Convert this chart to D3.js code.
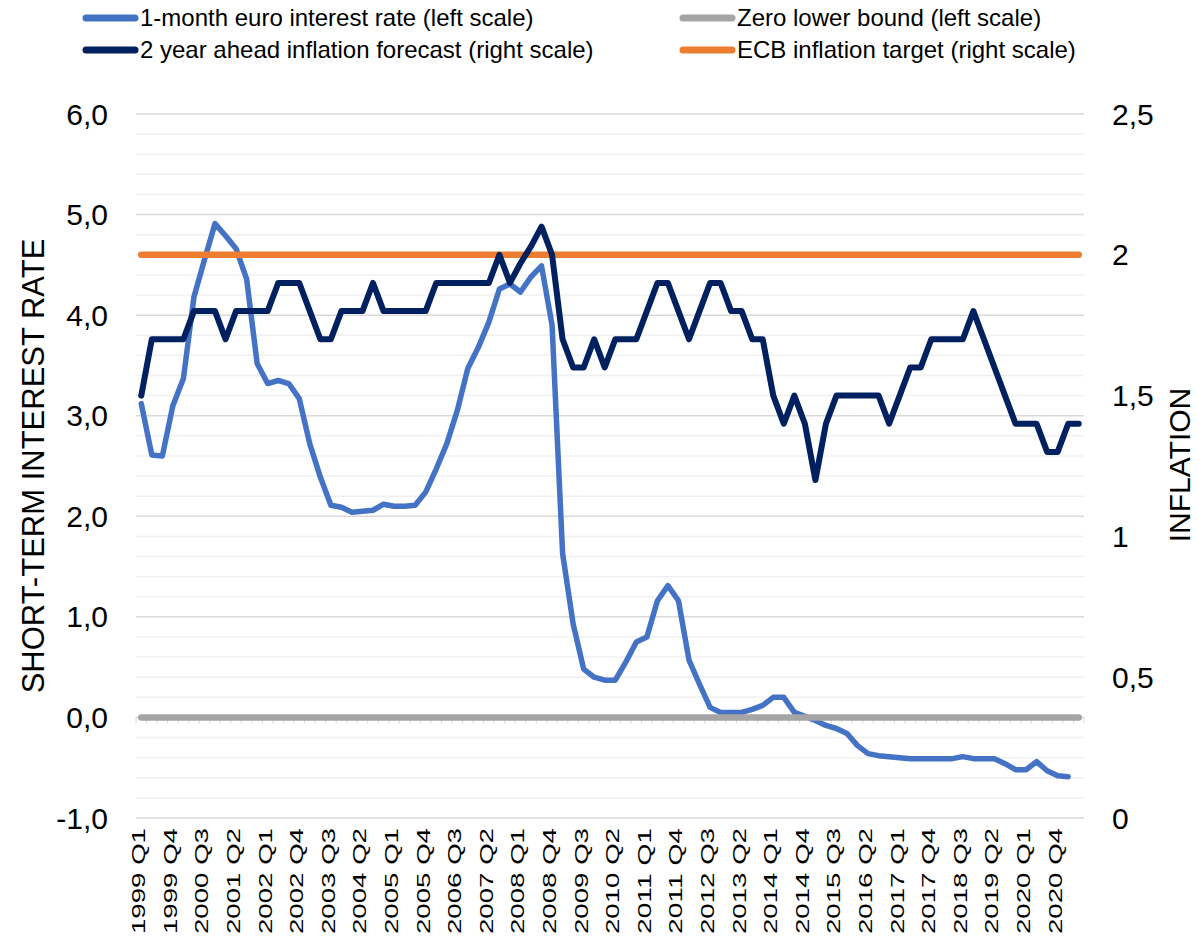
<!DOCTYPE html>
<html><head><meta charset="utf-8">
<script src="https://cdn.jsdelivr.net/npm/d3@7"></script>
<style>
body{margin:0;background:#fff}
text{font-family:Arial,"Liberation Sans",sans-serif;fill:#000}
</style>
</head><body>
<svg id="c" width="1199" height="939"></svg>
<script>
const quarters = [
"1999 Q1","1999 Q2","1999 Q3","1999 Q4","2000 Q1","2000 Q2","2000 Q3","2000 Q4",
"2001 Q1","2001 Q2","2001 Q3","2001 Q4","2002 Q1","2002 Q2","2002 Q3","2002 Q4",
"2003 Q1","2003 Q2","2003 Q3","2003 Q4","2004 Q1","2004 Q2","2004 Q3","2004 Q4",
"2005 Q1","2005 Q2","2005 Q3","2005 Q4","2006 Q1","2006 Q2","2006 Q3","2006 Q4",
"2007 Q1","2007 Q2","2007 Q3","2007 Q4","2008 Q1","2008 Q2","2008 Q3","2008 Q4",
"2009 Q1","2009 Q2","2009 Q3","2009 Q4","2010 Q1","2010 Q2","2010 Q3","2010 Q4",
"2011 Q1","2011 Q2","2011 Q3","2011 Q4","2012 Q1","2012 Q2","2012 Q3","2012 Q4",
"2013 Q1","2013 Q2","2013 Q3","2013 Q4","2014 Q1","2014 Q2","2014 Q3","2014 Q4",
"2015 Q1","2015 Q2","2015 Q3","2015 Q4","2016 Q1","2016 Q2","2016 Q3","2016 Q4",
"2017 Q1","2017 Q2","2017 Q3","2017 Q4","2018 Q1","2018 Q2","2018 Q3","2018 Q4",
"2019 Q1","2019 Q2","2019 Q3","2019 Q4","2020 Q1","2020 Q2","2020 Q3","2020 Q4",
"2021 Q1","2021 Q2"];

// 1-month euro interest rate (left scale)
const euribor1m = [
3.12,2.61,2.60,3.10,3.37,4.18,4.55,4.91,4.79,4.66,
4.36,3.52,3.32,3.35,3.32,3.17,2.72,2.39,2.11,2.09,
2.04,2.05,2.06,2.12,2.10,2.10,2.11,2.24,2.47,2.72,
3.05,3.47,3.68,3.93,4.26,4.31,4.23,4.38,4.49,3.90,
1.63,0.93,0.48,0.40,0.37,0.37,0.55,0.75,0.80,1.16,
1.31,1.16,0.57,0.33,0.10,0.05,0.05,0.05,0.08,0.12,
0.20,0.20,0.05,0.01,-0.03,-0.08,-0.11,-0.16,-0.28,-0.36,
-0.38,-0.39,-0.40,-0.41,-0.41,-0.41,-0.41,-0.41,-0.39,-0.41,
-0.41,-0.41,-0.46,-0.52,-0.52,-0.44,-0.53,-0.58,-0.59,null];

// 2 year ahead inflation forecast (right scale)
const inflationForecast = [
1.5,1.7,1.7,1.7,1.7,1.8,1.8,1.8,1.7,1.8,
1.8,1.8,1.8,1.9,1.9,1.9,1.8,1.7,1.7,1.8,
1.8,1.8,1.9,1.8,1.8,1.8,1.8,1.8,1.9,1.9,
1.9,1.9,1.9,1.9,2.0,1.9,1.97,2.03,2.1,2.0,
1.7,1.6,1.6,1.7,1.6,1.7,1.7,1.7,1.8,1.9,
1.9,1.8,1.7,1.8,1.9,1.9,1.8,1.8,1.7,1.7,
1.5,1.4,1.5,1.4,1.2,1.4,1.5,1.5,1.5,1.5,
1.5,1.4,1.5,1.6,1.6,1.7,1.7,1.7,1.7,1.8,
1.7,1.6,1.5,1.4,1.4,1.4,1.3,1.3,1.4,1.4];

const zeroLowerBound = 0;   // left scale
const ecbTarget = 2;        // right scale

const leftTicks = [-1,0,1,2,3,4,5,6];
const leftTickLabels = ["-1,0","0,0","1,0","2,0","3,0","4,0","5,0","6,0"];
const rightTicks = [0,0.5,1,1.5,2,2.5];
const rightTickLabels = ["0","0,5","1","1,5","2","2,5"];

const seriesNames = ["1-month euro interest rate (left scale)","Zero lower bound (left scale)",
  "2 year ahead inflation forecast (right scale)","ECB inflation target (right scale)"];
const seriesColors = ["#4472C4","#A5A5A5","#002060","#ED7D31"];

const svg = d3.select("#c");
const L = 136, R = 1084, T = 114, B = 818;

const x = d3.scaleBand().domain(quarters).range([L, R]);
const cx = q => x(q) + x.bandwidth()/2;
const yL = d3.scaleLinear().domain([-1,6]).range([B,T]);
const yR = d3.scaleLinear().domain([0,2.5]).range([B,T]);

// minor gridlines
const minor = d3.range(-10, 61, 2).map(v => v/10).filter(v => Math.abs(v - Math.round(v)) > 1e-9);
svg.append("g").selectAll("line").data(minor).join("line")
  .attr("x1", L).attr("x2", R).attr("y1", d=>yL(d)).attr("y2", d=>yL(d))
  .attr("stroke", "#F0F0F0").attr("stroke-width", 1.5);
svg.append("g").selectAll("line").data(leftTicks).join("line")
  .attr("x1", L).attr("x2", R).attr("y1", d=>yL(d)).attr("y2", d=>yL(d))
  .attr("stroke", "#D9D9D9").attr("stroke-width", 1.5);

// category ticks at zero line
const bounds = quarters.map(q => x(q)).concat([R]);
svg.append("g").selectAll("line").data(bounds).join("line")
  .attr("x1", d=>d).attr("x2", d=>d).attr("y1", yL(0)).attr("y2", yL(0)+6)
  .attr("stroke", "#D9D9D9").attr("stroke-width", 1);

// left axis labels
svg.append("g").selectAll("text").data(leftTicks).join("text")
  .attr("x", 108).attr("y", d=>yL(d)).attr("dy","0.35em").attr("text-anchor","end")
  .style("font-size","30px").text((d,i)=>leftTickLabels[i]);
svg.append("g").selectAll("text").data(rightTicks).join("text")
  .attr("x", 1112).attr("y", d=>yR(d)).attr("dy","0.35em").attr("text-anchor","start")
  .style("font-size","30px").text((d,i)=>rightTickLabels[i]);

// axis titles
svg.append("text").attr("transform","translate(44,466) rotate(-90)").attr("text-anchor","middle")
  .style("font-size","31px").text("SHORT-TERM INTEREST RATE");
svg.append("text").attr("transform","translate(1190,465) rotate(-90)").attr("text-anchor","middle")
  .style("font-size","30px").text("INFLATION");

// x labels
const xLabelIdx = d3.range(0, quarters.length, 3);
svg.append("g").selectAll("text").data(xLabelIdx.map(i=>quarters[i])).join("text")
  .attr("transform", d=>`translate(${cx(d)+4},828) rotate(-90)`)
  .attr("text-anchor","end")
  .attr("textLength", 106).attr("lengthAdjust","spacingAndGlyphs")
  .style("font-size","19px").text(d=>d);

// lines
const lineL = d3.line().defined(d=>d.v!=null).x(d=>cx(d.q)).y(d=>yL(d.v));
const lineR = d3.line().defined(d=>d.v!=null).x(d=>cx(d.q)).y(d=>yR(d.v));
const first = quarters[0], last = quarters[quarters.length-1];

svg.append("path").datum(quarters.map((q,i)=>({q, v:euribor1m[i]})))
  .attr("d", lineL).attr("fill","none").attr("stroke",seriesColors[0])
  .attr("stroke-width",5.5).attr("stroke-linejoin","round").attr("stroke-linecap","round");
svg.append("path").datum([{q:first,v:zeroLowerBound},{q:last,v:zeroLowerBound}])
  .attr("d", lineL).attr("fill","none").attr("stroke",seriesColors[1])
  .attr("stroke-width",6.5).attr("stroke-linecap","round");
svg.append("path").datum([{q:first,v:ecbTarget},{q:last,v:ecbTarget}])
  .attr("d", lineR).attr("fill","none").attr("stroke",seriesColors[3])
  .attr("stroke-width",6.5).attr("stroke-linecap","round");
svg.append("path").datum(quarters.map((q,i)=>({q, v:inflationForecast[i]})))
  .attr("d", lineR).attr("fill","none").attr("stroke",seriesColors[2])
  .attr("stroke-width",6).attr("stroke-linejoin","round").attr("stroke-linecap","round");

// legend
const legPos = [[86,18],[683,18],[86,50],[683,50]];
const leg = svg.append("g").selectAll("g").data(seriesNames).join("g")
  .attr("transform",(d,i)=>`translate(${legPos[i][0]},${legPos[i][1]})`);
leg.append("line").attr("x1",0).attr("x2",49).attr("y1",0).attr("y2",0)
  .attr("stroke",(d,i)=>seriesColors[i]).attr("stroke-width",7).attr("stroke-linecap","round");
leg.append("text").attr("x",54).attr("dy","0.35em").style("font-size","24px").text(d=>d);
</script>
</body></html>
